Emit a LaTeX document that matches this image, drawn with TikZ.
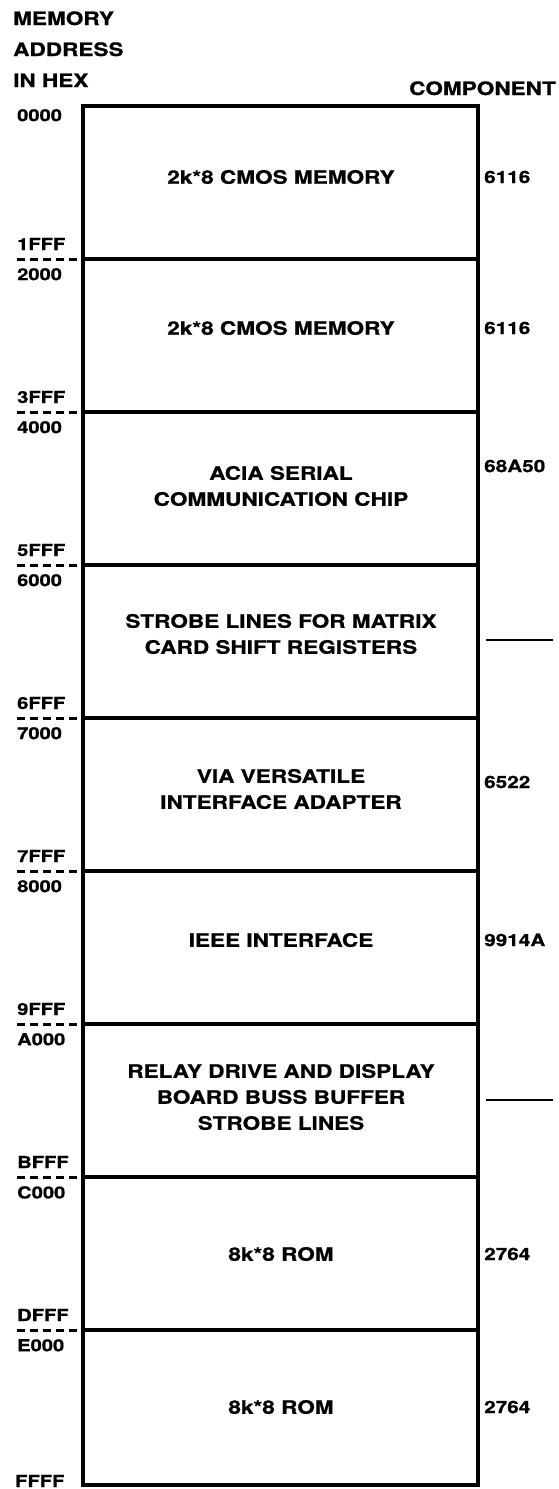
\documentclass[tikz,border=0pt]{standalone}
\usepackage{fontspec}
\setmainfont{TeX Gyre Heros}[FakeStretch=1.22, BoldFeatures={FakeBold=0.8}]
\tikzset{
  blocktext/.style={font=\bfseries\fontsize{18.5}{26}\selectfont, align=center, inner sep=0pt},
  addr/.style={font=\bfseries\fontsize{16.5}{16.5}\selectfont, inner sep=0pt},
  comp/.style={font=\bfseries\fontsize{17}{17}\selectfont, inner sep=0pt, anchor=west},
  head/.style={font=\bfseries\fontsize{18.5}{18.5}\selectfont, inner sep=0pt},
  divider/.style={line width=3.5pt},
  cut/.style={line width=3pt, dash pattern=on 8pt off 5pt},
  nocomp/.style={line width=2.5pt}
}
\begin{document}
\begin{tikzpicture}[x=1pt,y=-1pt]
  \useasboundingbox (0,0) rectangle (559,1489);
  % headings
  \node[head, anchor=base west] (hmem) at (13,25) {MEMORY};
  \node[head, anchor=base west] (hadr) at (13,56) {ADDRESS};
  \node[head, anchor=base west] (hhex) at (13,87) {IN HEX};
  \node[head, anchor=base east] (hcomp) at (556,95) {COMPONENT};
  % memory block
  \draw[line width=3.5pt] (83,106) rectangle (478,1485);
  \draw[divider] (83,259) -- (478,259);
  \draw[divider] (83,412) -- (478,412);
  \draw[divider] (83,565) -- (478,565);
  \draw[divider] (83,718) -- (478,718);
  \draw[divider] (83,871) -- (478,871);
  \draw[divider] (83,1024) -- (478,1024);
  \draw[divider] (83,1177) -- (478,1177);
  \draw[divider] (83,1330) -- (478,1330);
  % address cuts
  \draw[cut] (17,259) -- (81,259);
  \draw[cut] (17,412) -- (81,412);
  \draw[cut] (17,565) -- (81,565);
  \draw[cut] (17,718) -- (81,718);
  \draw[cut] (17,871) -- (81,871);
  \draw[cut] (17,1024) -- (81,1024);
  \draw[cut] (17,1177) -- (81,1177);
  \draw[cut] (17,1330) -- (81,1330);
  % addresses
  \node[addr, anchor=north west] (a0000) at (17,109) {0000};
  \node[addr, anchor=base west] (a1fff) at (17,250) {1FFF};
  \node[addr, anchor=north west] (a2000) at (17,268) {2000};
  \node[addr, anchor=base west] (a3fff) at (17,403) {3FFF};
  \node[addr, anchor=north west] (a4000) at (17,421) {4000};
  \node[addr, anchor=base west] (a5fff) at (17,556) {5FFF};
  \node[addr, anchor=north west] (a6000) at (17,574) {6000};
  \node[addr, anchor=base west] (a6fff) at (17,709) {6FFF};
  \node[addr, anchor=north west] (a7000) at (17,727) {7000};
  \node[addr, anchor=base west] (a7fff) at (17,862) {7FFF};
  \node[addr, anchor=north west] (a8000) at (17,880) {8000};
  \node[addr, anchor=base west] (a9fff) at (17,1015) {9FFF};
  \node[addr, anchor=north west] (aa000) at (17,1033) {A000};
  \node[addr, anchor=base west] (abfff) at (17,1168) {BFFF};
  \node[addr, anchor=north west] (ac000) at (17,1186) {C000};
  \node[addr, anchor=base west] (adfff) at (17,1321) {DFFF};
  \node[addr, anchor=north west] (ae000) at (17,1339) {E000};
  \node[addr, anchor=base west] (affff) at (15,1487) {FFFF};
  % block contents
  \node[blocktext] (cmos1) at (281,177) {2k*8 CMOS MEMORY};
  \node[blocktext] (cmos2) at (281,328) {2k*8 CMOS MEMORY};
  \node[blocktext] (acia) at (281,486) {ACIA SERIAL\\COMMUNICATION CHIP};
  \node[blocktext] (matrix) at (281,634) {STROBE LINES FOR MATRIX\\CARD SHIFT REGISTERS};
  \node[blocktext] (via) at (281,789) {VIA VERSATILE\\INTERFACE ADAPTER};
  \node[blocktext] (ieee) at (281,940) {IEEE INTERFACE};
  \node[blocktext] (relay) at (281,1097) {RELAY DRIVE AND DISPLAY\\BOARD BUSS BUFFER\\STROBE LINES};
  \node[blocktext] (rom1) at (281,1254) {8k*8 ROM};
  \node[blocktext] (rom2) at (281,1407) {8k*8 ROM};
  % components
  \node[comp] (c6116a) at (484,177) {6116};
  \node[comp] (c6116b) at (484,328) {6116};
  \node[comp] (c68a50) at (484,466) {68A50};
  \draw[nocomp] (486,640) -- (553,640);
  \node[comp] (c6522) at (484,782) {6522};
  \node[comp] (c9914) at (484,940) {9914A};
  \draw[nocomp] (486,1100) -- (553,1100);
  \node[comp] (c2764a) at (484,1254) {2764};
  \node[comp] (c2764b) at (484,1407) {2764};
\end{tikzpicture}
\end{document}
